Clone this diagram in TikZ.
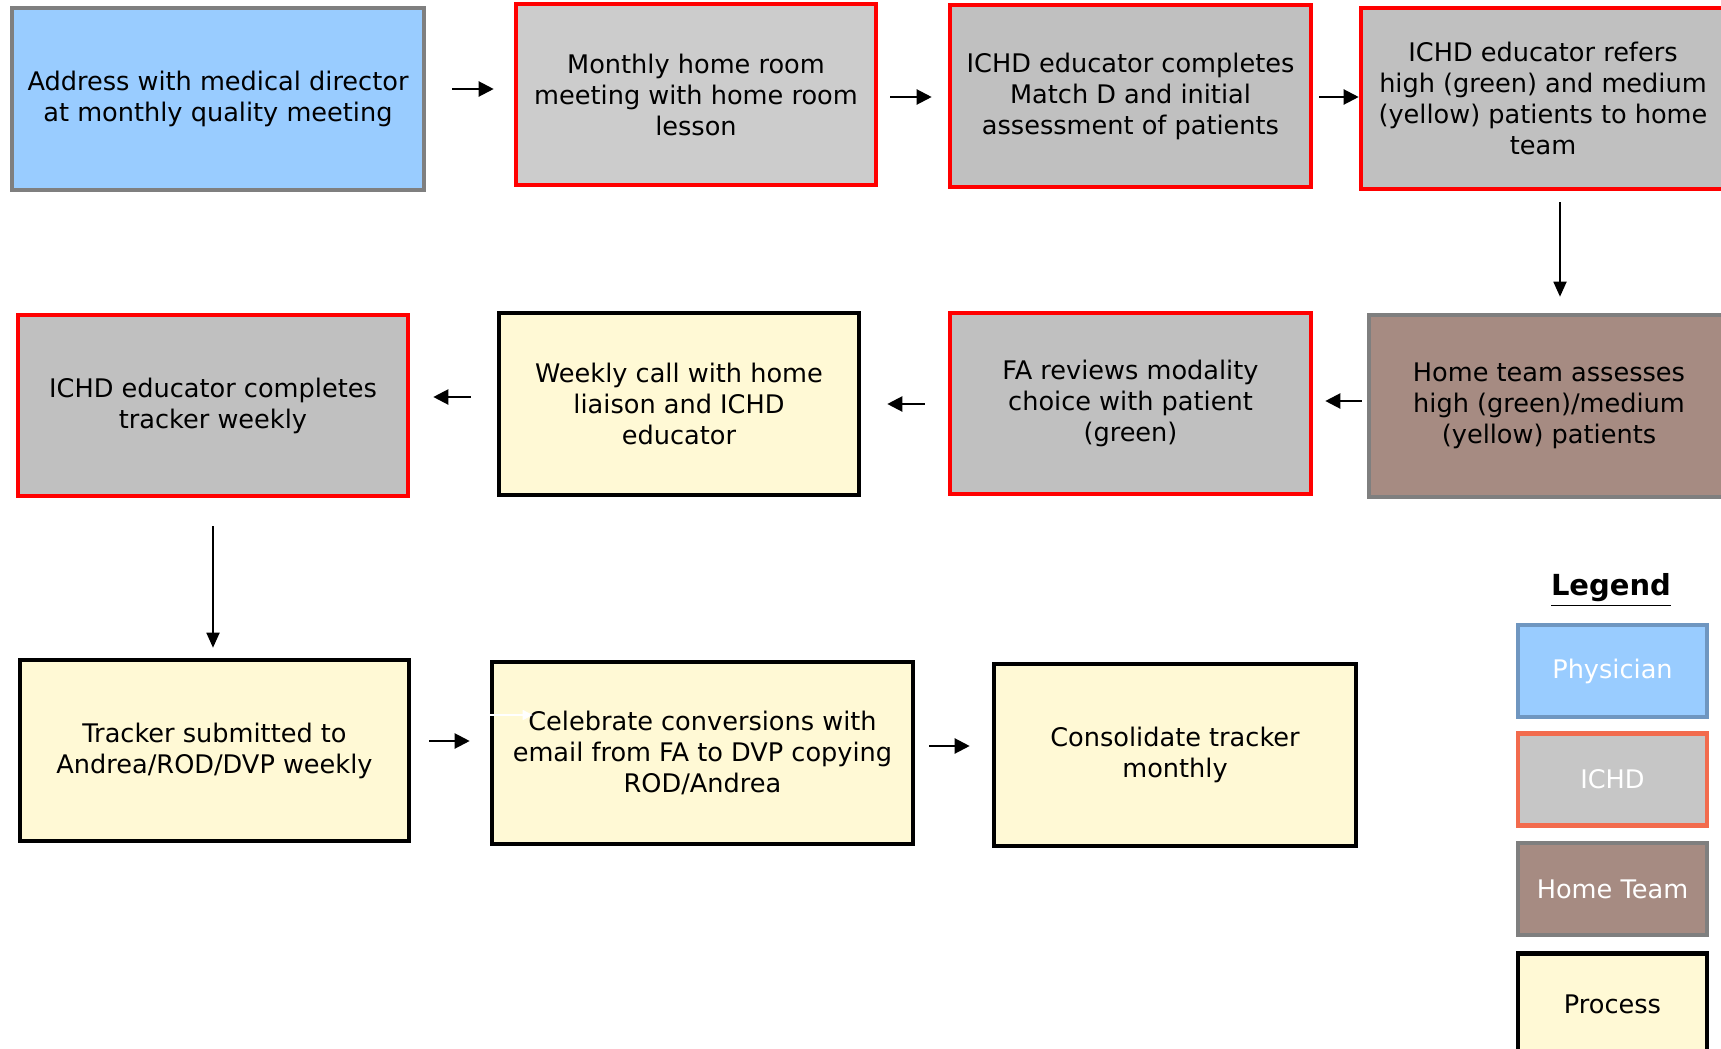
\documentclass[tikz,border=0pt]{standalone}
\usepackage{fontspec}
\setmainfont{DejaVu Sans}
\usetikzlibrary{arrows.meta,calc}
\definecolor{physfill}{HTML}{99CCFF}
\definecolor{physline}{HTML}{7F7F7F}
\definecolor{physleg}{HTML}{6F96C0}
\definecolor{ichdfill}{HTML}{C0C0C0}
\definecolor{ichdlight}{HTML}{CCCCCC}
\definecolor{ichdleg}{HTML}{C6C6C6}
\definecolor{ichdlegline}{HTML}{F26B4D}
\definecolor{redline}{HTML}{FF0000}
\definecolor{homefill}{HTML}{A68B82}
\definecolor{homeline}{HTML}{7F7F7F}
\definecolor{procfill}{HTML}{FFF9D5}
\begin{document}
\begin{tikzpicture}[x=0.5pt,y=-0.5pt,
  box/.style={draw, line width=2.3pt, inner sep=0pt, align=center,
    font=\fontsize{12.8pt}{15.5pt}\selectfont},
  phys/.style={box, fill=physfill, draw=physline},
  ichd/.style={box, fill=ichdfill, draw=redline},
  home/.style={box, fill=homefill, draw=homeline},
  proc/.style={box, fill=procfill, draw=black},
  arr/.style={line width=1.1pt, -{Triangle[length=7.5pt,width=7.5pt]}},
  varr/.style={line width=0.9pt, -{Triangle[length=7.5pt,width=6.5pt]}},
  legbox/.style={box, text=white, minimum width=94.5pt, minimum height=46pt}
]
\useasboundingbox (0,0) rectangle (1721,1049);
\clip (0,0) rectangle (1721,1049);
% row 1
\node[phys, minimum width=206pt, minimum height=91pt] (b1) at (218,99)
  {Address with medical director\\at monthly quality meeting};
\node[ichd, fill=ichdlight, minimum width=180pt, minimum height=90.5pt] (b2) at (696,94.5)
  {Monthly home room\\meeting with home room\\lesson};
\node[ichd, minimum width=180.5pt, minimum height=91pt] (b3) at (1130.5,96)
  {ICHD educator completes\\Match D and initial\\assessment of patients};
\node[ichd, minimum width=182pt, minimum height=90.5pt] (b4) at (1543,98.5)
  {ICHD educator refers\\high (green) and medium\\(yellow) patients to home\\team};
% row 2
\node[ichd, minimum width=195pt, minimum height=90.5pt] (b5) at (213,405.5)
  {ICHD educator completes\\tracker weekly};
\node[proc, minimum width=180pt, minimum height=91pt] (b6) at (679,404)
  {Weekly call with home\\liaison and ICHD\\educator};
\node[ichd, minimum width=180.5pt, minimum height=90.5pt] (b7) at (1130.5,403.5)
  {FA reviews modality\\choice with patient\\(green)};
\node[home, minimum width=180pt, minimum height=91pt] (b8) at (1549,406)
  {Home team assesses\\high (green)/medium\\(yellow) patients};
% row 3
\node[proc, minimum width=194.5pt, minimum height=90.5pt] (b9) at (214.5,750.5)
  {Tracker submitted to\\Andrea/ROD/DVP weekly};
\node[proc, minimum width=210.5pt, minimum height=91pt] (b10) at (702.5,753)
  {Celebrate conversions with\\email from FA to DVP copying\\ROD/Andrea};
\node[proc, minimum width=181pt, minimum height=91pt] (b11) at (1175,755)
  {Consolidate tracker\\monthly};
% legend
\node[font=\bfseries\fontsize{14.5pt}{17pt}\selectfont] (leg) at (1611,590) {\underline{Legend}};
\node[legbox, fill=physfill, draw=physleg] (l1) at (1612.5,671) {Physician};
\node[legbox, fill=ichdleg, draw=ichdlegline] (l2) at (1612.5,779.5) {ICHD};
\node[legbox, fill=homefill, draw=homeline] (l3) at (1612.5,889) {Home Team};
\node[legbox, fill=procfill, draw=black, minimum height=53pt] (l4) at (1612.5,1006.5) {};
\node[font=\fontsize{12.8pt}{15.5pt}\selectfont] (l4t) at (1612.5,1004) {Process};
% arrows
\draw[arr] ($(b1.east)+(26,-10)$) -- ($(b2.west)+(-20,-5.5)$);
\draw[arr] ($(b2.east)+(12,2.5)$) -- ($(b3.west)+(-16,1)$);
\draw[arr] ($(b3.east)+(6,1)$) -- ($(b4.west)+(0,-1.5)$);
\draw[varr] ($(b4.south)+(17,11)$) -- ($(b8.north)+(11,-16)$);
\draw[arr] ($(b8.west)+(-5,-5)$) -- ($(b7.east)+(12,-2.5)$);
\draw[arr] ($(b7.west)+(-23,0.5)$) -- ($(b6.east)+(26,0)$);
\draw[arr] ($(b6.west)+(-26,-7)$) -- ($(b5.east)+(23,-8.5)$);
\draw[varr] ($(b5.south)+(0,28)$) -- ($(b9.north)+(-1.5,-10)$);
\draw[arr] ($(b9.east)+(18,-9.5)$) -- ($(b10.west)+(-20,-12)$);
\draw[arr] ($(b10.east)+(14,-7)$) -- ($(b11.west)+(-22,-9)$);
\draw[white, line width=0.8pt, -{Triangle[length=5pt,width=5pt]}] ($(b10.west)+(-2,-38)$) -- ($(b10.west)+(43,-38)$);
\end{tikzpicture}
\end{document}
